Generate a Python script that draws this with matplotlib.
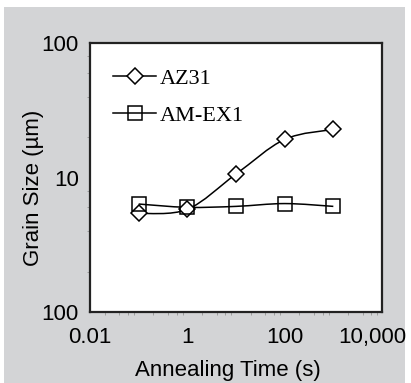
import numpy as np
import matplotlib
matplotlib.use("Agg")
import matplotlib.pyplot as plt
from matplotlib.path import Path
from matplotlib.patches import PathPatch, Rectangle
from matplotlib.lines import Line2D
from matplotlib.ticker import FixedLocator, NullFormatter, LogLocator
from matplotlib.transforms import ScaledTranslation

# ---- data ----
time_s = [0.1, 1, 10, 100, 1000]
az31 = [5.4, 5.8, 10.6, 19.2, 22.8]
am_ex1 = [6.35, 6.0, 6.1, 6.4, 6.1]
series_names = ["AZ31", "AM-EX1"]
x_ticks = [0.01, 1, 100, 10000]
x_ticklabels = ["0.01", "1", "100", "10,000"]
y_ticks = [1, 10, 100]
y_ticklabels = ["100", "10", "100"]
x_label = "Annealing Time (s)"
y_label = "Grain Size (µm)"

SANS = ["Liberation Sans", "DejaVu Sans"]
SERIF = ["Liberation Serif", "DejaVu Serif"]
TICK_FS, LABEL_FS = 16, 16

fig = plt.figure(figsize=(4.11, 3.83), dpi=100)
fig.patch.set_facecolor("white")
fig.patches.append(Rectangle((4 / 411, 0), 401 / 411, 376 / 383,
                             transform=fig.transFigure, facecolor="#d3d4d6",
                             edgecolor="none", zorder=-10))

ax = fig.add_axes([90 / 411, 1 - 312 / 383, 292 / 411, 269 / 383])
ax.set_zorder(1)
ax.set_facecolor("white")
ax.set_xscale("log")
ax.set_yscale("log")
ax.set_xlim(0.01, 10000)
ax.set_ylim(1, 100)


def smooth_path(xs, ys):
    """Excel-style smoothed line: cubic Bezier segments (Catmull-Rom control points)
    computed in log space, returned as a Path in data coordinates."""
    lx = np.log10(np.asarray(xs, float))
    ly = np.log10(np.asarray(ys, float))
    P = np.column_stack([lx, ly])
    n = len(P)
    verts = [P[0]]
    codes = [Path.MOVETO]
    for i in range(n - 1):
        p_prev = P[i - 1] if i > 0 else P[i]
        p_next2 = P[i + 2] if i + 2 < n else P[i + 1]
        c1 = P[i] + (P[i + 1] - p_prev) / 6.0
        c2 = P[i + 1] - (p_next2 - P[i]) / 6.0
        verts += [c1, c2, P[i + 1]]
        codes += [Path.CURVE4] * 3
    verts = 10 ** np.array(verts)
    return Path(verts, codes)


lw = 1.1
for ys in (az31, am_ex1):
    ax.add_patch(PathPatch(smooth_path(time_s, ys), fill=False, edgecolor="black",
                           linewidth=lw, zorder=2))

D_MS, S_MS = 7.8, 10.5
ax.plot(time_s, az31, linestyle="none", marker="D", markersize=D_MS,
        markerfacecolor="white", markeredgecolor="black", markeredgewidth=1.1, zorder=3)
ax.plot(time_s, am_ex1, linestyle="none", marker="s", markersize=S_MS,
        markerfacecolor="none", markeredgecolor="black", markeredgewidth=1.1, zorder=4)

for s in ax.spines.values():
    s.set_linewidth(1.6)
    s.set_color("#222222")

ax.xaxis.set_major_locator(FixedLocator(x_ticks))
ax.set_xticklabels(x_ticklabels, fontfamily=SANS, fontsize=TICK_FS)
ax.yaxis.set_major_locator(FixedLocator(y_ticks))
ax.set_yticklabels(y_ticklabels, fontfamily=SANS, fontsize=TICK_FS)
ax.xaxis.set_minor_locator(LogLocator(base=10, subs=[2, 4, 6, 8]))
ax.yaxis.set_minor_locator(LogLocator(base=10, subs=[2, 4, 6, 8]))
ax.xaxis.set_minor_formatter(NullFormatter())
ax.yaxis.set_minor_formatter(NullFormatter())
ax.tick_params(axis="x", which="major", length=0, pad=11)
ax.tick_params(axis="y", which="major", length=0, pad=8)
ax.tick_params(which="minor", length=2, width=0.5, color="#888888", direction="out")

# shift last x tick label slightly left so it stays inside the figure
last = ax.get_xticklabels()[-1]
last.set_transform(last.get_transform() + ScaledTranslation(-10 / 100, 0, fig.dpi_scale_trans))

ax.set_xlabel(x_label, fontfamily=SANS, fontsize=LABEL_FS)
ax.set_ylabel(y_label, fontfamily=SANS, fontsize=LABEL_FS)
ax.xaxis.set_label_coords(0.473, -0.178)
ax.yaxis.set_label_coords(-0.158, 0.463)

handles = [
    Line2D([], [], color="black", linewidth=lw, marker="D", markersize=D_MS,
           markerfacecolor="white", markeredgecolor="black", markeredgewidth=1.1),
    Line2D([], [], color="black", linewidth=lw, marker="s", markersize=S_MS,
           markerfacecolor="none", markeredgecolor="black", markeredgewidth=1.1),
]
leg = ax.legend(handles, series_names, loc="upper left", bbox_to_anchor=(0.05, 0.94),
                frameon=False, prop={"family": SERIF, "size": 16},
                handlelength=1.9, handletextpad=0.2, labelspacing=0.75,
                borderaxespad=0)

fig.savefig("out.png", dpi=100)
